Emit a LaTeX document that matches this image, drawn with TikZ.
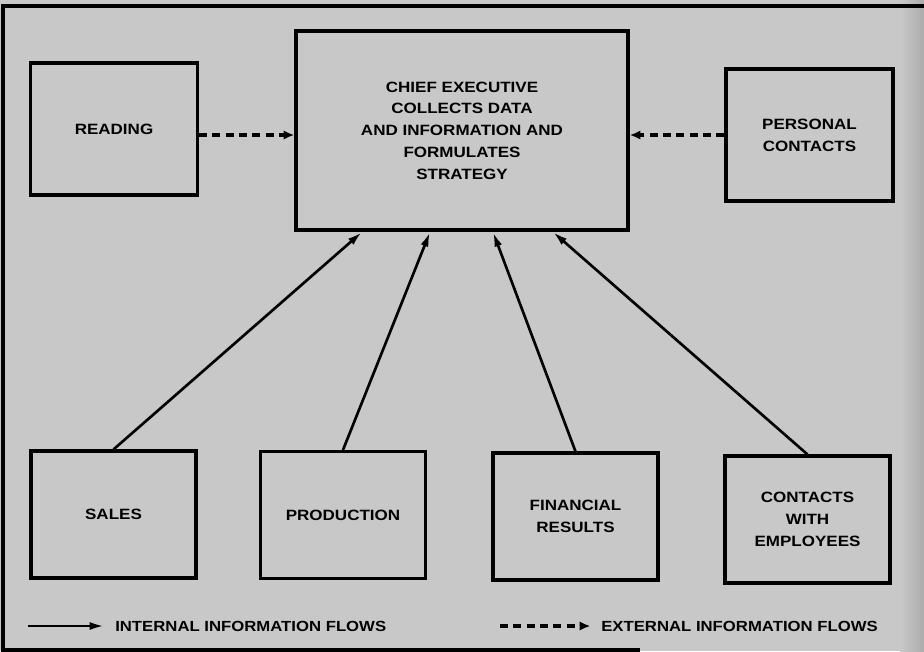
\documentclass[tikz,border=0pt]{standalone}
\usepackage{fontspec}
\usepackage{tikz}
\usetikzlibrary{arrows.meta}
\newfontfamily\boxfont{Liberation Sans}[FakeStretch=1.14]
\definecolor{bggray}{RGB}{200,200,200}
\definecolor{edgegray}{RGB}{172,172,172}

\tikzset{
  box/.style={draw, line width=2.6pt, fill=bggray, align=center, inner sep=0pt,
    font={\boxfont\bfseries\fontsize{11.2pt}{16.3pt}\selectfont}},
  topbox/.style={box, minimum width=125pt, minimum height=99pt},
  lowbox/.style={box, minimum width=124pt, minimum height=95pt},
  intflow/.style={line width=2pt, -{Latex[length=11pt,width=6pt]}},
  extflow/.style={line width=2.4pt, dash pattern=on 6pt off 4pt, -{Latex[length=8pt,width=7pt]}},
  legend/.style={inner sep=0pt, anchor=west,
    font={\boxfont\bfseries\fontsize{11pt}{13pt}\selectfont}}
}

\begin{document}
\begin{tikzpicture}[x=0.75pt, y=-0.75pt]
\useasboundingbox (0,0) rectangle (924,651);
\fill [bggray] (0,0) rectangle (924,651);
\shade [left color=bggray, right color=edgegray] (900,0) rectangle (924,651);
\draw [line width=2.4pt] (924,6) -- (3,6) -- (3,650) -- (640,650);

% top row
\node [topbox] (reading) at (114,129) {READING};
\node [box, minimum width=249pt, minimum height=149pt] (chief) at (462,130.5)
  {CHIEF EXECUTIVE\\COLLECTS DATA\\AND INFORMATION AND\\FORMULATES\\STRATEGY};
\node [topbox] (personal) at (809.5,135) {PERSONAL\\CONTACTS};

% bottom row
\node [lowbox] (sales) at (113.5,514.5) {SALES};
\node [lowbox] (production) at (343,515) {PRODUCTION};
\node [lowbox] (financial) at (575.5,516.5) {FINANCIAL\\RESULTS};
\node [lowbox] (contacts) at (807.5,519.5) {CONTACTS\\WITH\\EMPLOYEES};

% where the internal flows meet the chief executive
\coordinate (in1) at (362,232);
\coordinate (in2) at (430,232);
\coordinate (in3) at (493,232);
\coordinate (in4) at (553,232);

\draw [intflow] (sales.north) -- (in1);
\draw [intflow] (production.north) -- (in2);
\draw [intflow] (financial.north) -- (in3);
\draw [intflow] (contacts.north) -- (in4);

\draw [extflow] ([yshift=-4.5pt]reading.east) -- ([yshift=-4.5pt]reading.east -| chief.west);
\draw [extflow] (personal.west) -- (personal.west -| chief.east);

% legend
\node [legend] (intlabel) at (115,626) {INTERNAL INFORMATION FLOWS};
\node [legend] (extlabel) at (601,626) {EXTERNAL INFORMATION FLOWS};
\coordinate (intstart) at (28,626);
\coordinate (extstart) at (500,626);
\draw [intflow, shorten >=8pt] (intstart) -- (intlabel.west);
\draw [extflow, shorten >=8pt] (extstart) -- (extlabel.west);
\end{tikzpicture}
\end{document}
